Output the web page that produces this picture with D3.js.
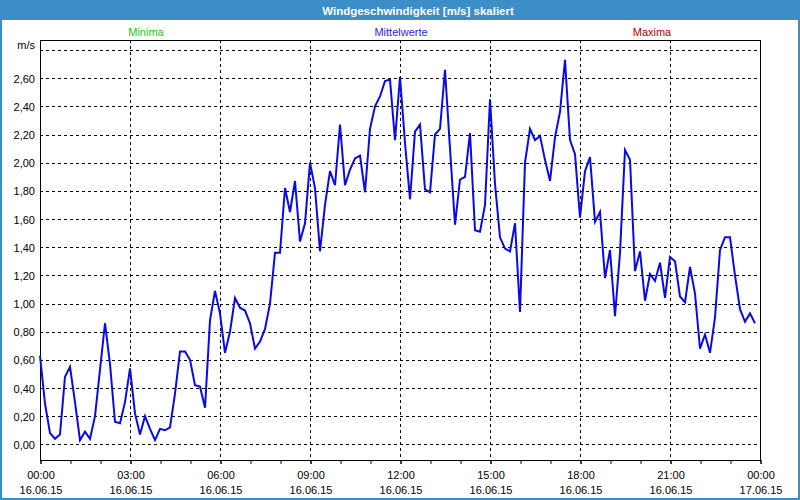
<!DOCTYPE html>
<html>
<head>
<meta charset="utf-8">
<script src="https://cdn.jsdelivr.net/npm/d3@7/dist/d3.min.js"></script>
<style>
  html, body { margin: 0; padding: 0; background: #fff; }
  svg { display: block; font-family: "Liberation Sans", Arial, sans-serif; }
</style>
</head>
<body>
<svg id="chart" width="800" height="500"></svg>
<script>
// ---- Data ----
const chartTitle = "Windgeschwindigkeit [m/s] skaliert";
const legendLabels = ["Minima", "Mittelwerte", "Maxima"];
const legendColors = ["#1ec81e", "#2626ee", "#b00000"];
const startTime = "2015-06-16T00:00:00";
const endTime = "2015-06-17T00:00:00";
const intervalMinutes = 10;
// 10-minute mean wind speed values (m/s)
const meanValues = [
  0.63, 0.29, 0.08, 0.04, 0.07, 0.48, 0.55, 0.30, 0.03, 0.09,
  0.04, 0.20, 0.53, 0.86, 0.57, 0.16, 0.15, 0.30, 0.54, 0.22,
  0.07, 0.20, 0.11, 0.03, 0.11, 0.10, 0.12, 0.36, 0.66, 0.66,
  0.60, 0.42, 0.41, 0.26, 0.88, 1.09, 0.93, 0.65, 0.80, 1.04,
  0.97, 0.95, 0.86, 0.68, 0.73, 0.82, 1.00, 1.36, 1.36, 1.82,
  1.65, 1.87, 1.44, 1.57, 2.00, 1.82, 1.37, 1.70, 1.94, 1.84,
  2.27, 1.84, 1.95, 2.03, 2.05, 1.79, 2.24, 2.40, 2.47, 2.58,
  2.59, 2.16, 2.61, 2.14, 1.74, 2.22, 2.27, 1.81, 1.79, 2.20,
  2.24, 2.66, 2.10, 1.56, 1.88, 1.90, 2.21, 1.52, 1.51, 1.70,
  2.45, 1.85, 1.47, 1.39, 1.37, 1.57, 0.94, 2.00, 2.24, 2.16,
  2.19, 2.02, 1.87, 2.18, 2.36, 2.73, 2.16, 2.06, 1.61, 1.94,
  2.04, 1.58, 1.65, 1.18, 1.38, 0.91, 1.36, 2.09, 2.02, 1.23,
  1.37, 1.02, 1.21, 1.16, 1.29, 1.04, 1.33, 1.30, 1.05, 1.01,
  1.26, 1.07, 0.68, 0.78, 0.65, 0.90, 1.38, 1.47, 1.47, 1.20,
  0.96, 0.87, 0.93, 0.86
];
const yTickValues = [0, 0.2, 0.4, 0.6, 0.8, 1.0, 1.2, 1.4, 1.6, 1.8, 2.0, 2.2, 2.4, 2.6];
const yGridValues = [0, 0.2, 0.4, 0.6, 0.8, 1.0, 1.2, 1.4, 1.6, 1.8, 2.0, 2.2, 2.4, 2.6, 2.8];
const yUnit = "m/s";
const yDomain = [-0.111, 2.871];

// ---- Layout ----
const W = 800, H = 500;
const plot = { left: 40, right: 760, top: 40, bottom: 460 };
const svg = d3.select("#chart");

const parse = d3.isoParse;
const t0 = parse(startTime), t1 = parse(endTime);
const data = meanValues.map((v, i) => ({ t: d3.timeMinute.offset(t0, i * intervalMinutes), v }));

const x = d3.scaleTime().domain([t0, t1]).range([plot.left, plot.right]);
const y = d3.scaleLinear().domain(yDomain).range([plot.bottom, plot.top]);

const de = d3.formatLocale({ decimal: ",", thousands: ".", grouping: [3], currency: ["", " €"] });
const fmtY = de.format(".2f");

// background
svg.append("rect").attr("width", W).attr("height", H).attr("fill", "#ffffff");

// title bar
svg.append("rect").attr("x", 0).attr("y", 0).attr("width", W).attr("height", 20).attr("fill", "#3d8ec6");
svg.append("text").attr("x", 418).attr("y", 14.5).attr("text-anchor", "middle")
  .attr("fill", "#ffffff").attr("font-weight", "bold").attr("font-size", 11.5).text(chartTitle);

// window border
svg.append("rect").attr("x", 1).attr("y", 1).attr("width", W - 2).attr("height", H - 2)
  .attr("fill", "none").attr("stroke", "#3d8ec6").attr("stroke-width", 2);

// legend
const legendX = [146, 401, 652];
legendLabels.forEach((l, i) => {
  svg.append("text").attr("x", legendX[i]).attr("y", 35.5).attr("text-anchor", "middle")
    .attr("font-size", 11).attr("fill", legendColors[i]).text(l);
});

// horizontal gridlines
svg.append("g").selectAll("line").data(yGridValues).join("line")
  .attr("x1", plot.left).attr("x2", plot.right)
  .attr("y1", d => Math.round(y(d)) + 0.5).attr("y2", d => Math.round(y(d)) + 0.5)
  .attr("stroke", "#000").attr("stroke-width", 1).attr("stroke-dasharray", "3,3");

// vertical gridlines every 3h
const vGrid = d3.timeHour.every(3).range(d3.timeHour.offset(t0, 1), t1);
svg.append("g").selectAll("line").data(vGrid).join("line")
  .attr("x1", d => Math.round(x(d)) + 0.5).attr("x2", d => Math.round(x(d)) + 0.5)
  .attr("y1", plot.top).attr("y2", plot.bottom)
  .attr("stroke", "#000").attr("stroke-width", 1).attr("stroke-dasharray", "3,3");

// minor ticks every hour
const minorAxis = d3.axisBottom(x).ticks(d3.timeHour.every(1)).tickFormat("").tickSize(4).tickSizeOuter(0);
svg.append("g").attr("transform", `translate(0.5,${plot.bottom})`).call(minorAxis)
  .call(g => g.select(".domain").remove())
  .selectAll("line").attr("stroke", "#000");

// major x axis labels
const fmtTime = d3.timeFormat("%H:%M");
const fmtDate = d3.timeFormat("%d.%m.%y");
const xAxis = d3.axisBottom(x).ticks(d3.timeHour.every(3)).tickSize(4).tickSizeOuter(0).tickFormat("");
const gx = svg.append("g").attr("transform", `translate(0.5,${plot.bottom})`).call(xAxis);
gx.select(".domain").remove();
gx.selectAll(".tick line").attr("stroke", "#000");
gx.selectAll(".tick").each(function (d) {
  const g = d3.select(this);
  g.append("text").attr("y", 19).attr("text-anchor", "middle").attr("fill", "#000")
    .attr("font-size", 11).text(fmtTime(d));
  g.append("text").attr("y", 33.5).attr("text-anchor", "middle").attr("fill", "#000")
    .attr("font-size", 11).text(fmtDate(d));
});

// y axis labels
const yAxis = d3.axisLeft(y).tickValues(yTickValues).tickSize(0).tickPadding(5).tickFormat(fmtY);
const gy = svg.append("g").attr("transform", `translate(${plot.left},0.5)`).call(yAxis);
gy.select(".domain").remove();
gy.selectAll("text").attr("font-size", 11).attr("fill", "#000").attr("font-family", "Liberation Sans, Arial, sans-serif");
svg.append("text").attr("x", 35).attr("y", y(2.8) - 1).attr("text-anchor", "end")
  .attr("font-size", 11).attr("fill", "#000").text(yUnit);

// plot border
svg.append("rect").attr("x", plot.left + 0.5).attr("y", plot.top + 0.5)
  .attr("width", plot.right - plot.left).attr("height", plot.bottom - plot.top)
  .attr("fill", "none").attr("stroke", "#000").attr("stroke-width", 1);

// data line
const line = d3.line().x(d => x(d.t)).y(d => y(d.v));
svg.append("path").datum(data).attr("d", line)
  .attr("fill", "none").attr("stroke", "#0a0ae8").attr("stroke-width", 2)
  .attr("stroke-linejoin", "miter");
</script>
</body>
</html>
